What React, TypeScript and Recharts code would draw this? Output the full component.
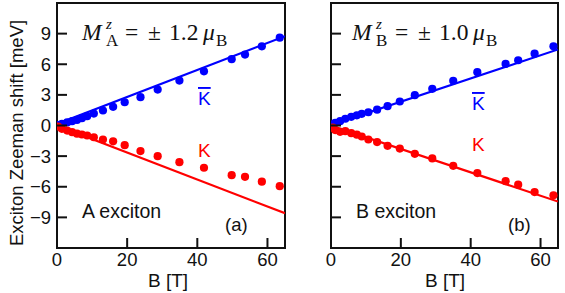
import React from 'react';
import { ComposedChart, Scatter, XAxis, YAxis, ReferenceArea } from 'recharts';

// ---------- data ----------
const fieldA = [0.3, 1.4, 2.9, 4.3, 5.7, 7.1, 8.6, 10.5, 13.1, 16.0, 19.3, 23.8, 28.7, 34.9, 41.9, 49.8, 53.6, 58.4, 63.5];
const kbarA = [0.05, 0.17, 0.3, 0.42, 0.55, 0.72, 0.91, 1.17, 1.47, 1.83, 2.28, 2.77, 3.52, 4.4, 5.31, 6.5, 6.95, 7.76, 8.6];
const kA = [-0.1, -0.33, -0.5, -0.65, -0.8, -0.88, -0.98, -1.15, -1.38, -1.55, -1.93, -2.51, -3.0, -3.59, -4.14, -4.87, -5.03, -5.5, -5.94];

const fieldB = [0.5, 1.2, 2.6, 4.1, 5.8, 7.4, 8.8, 10.7, 13.2, 16.2, 19.7, 24.0, 29.0, 35.0, 41.9, 50.0, 53.6, 58.3, 63.7];
const kbarB = [0.1, 0.26, 0.42, 0.66, 0.85, 1.0, 1.14, 1.3, 1.55, 1.89, 2.35, 2.97, 3.59, 4.38, 5.22, 6.03, 6.39, 7.04, 7.76];
const kB = [-0.2, -0.45, -0.62, -0.56, -0.75, -0.9, -1.08, -1.37, -1.62, -1.99, -2.26, -2.77, -3.23, -3.95, -4.66, -5.45, -5.8, -6.52, -6.84];

const fitField = [0, 65];
const fitKbarA = [0.15, 8.75];
const fitKA = [0, -8.6];
const fitKbarB = [0.05, 7.45];
const fitKB = [0, -7.45];

const xTicks = [0, 20, 40, 60];
const yTicks = [-9, -6, -3, 0, 3, 6, 9];
const xDomain = [0, 65];
const yDomain = [-12, 12];

const BLUE = '#0000ff';
const RED = '#ff0000';
const INK = '#111';
const SANS = '"Liberation Sans", Arial, Helvetica, sans-serif';
const SERIF = '"Liberation Serif", "Times New Roman", serif';

const zip = (xs: number[], ys: number[]) => xs.map((x, i) => ({ x, y: ys[i] }));
const fmt = (v: number) => (v < 0 ? '\u2212' + Math.abs(v) : String(v));

const TICK_LEN = 10;

const bottomTick = (p: any) => (
  <g>
    <line x1={p.x} y1={p.y} x2={p.x} y2={p.y - TICK_LEN} stroke={INK} strokeWidth={2} />
    <text x={p.x} y={p.y + 17.5} textAnchor="middle" fontFamily={SANS} fontSize={18.5} fill={INK}>
      {fmt(p.payload.value)}
    </text>
  </g>
);
const topTick = (p: any) => (
  <line x1={p.x} y1={p.y} x2={p.x} y2={p.y + TICK_LEN} stroke={INK} strokeWidth={2} />
);
const leftTickLabeled = (p: any) => (
  <g>
    <line x1={p.x} y1={p.y} x2={p.x + TICK_LEN} y2={p.y} stroke={INK} strokeWidth={2} />
    <text x={p.x - 6} y={p.y + 6.5} textAnchor="end" fontFamily={SANS} fontSize={18.5} fill={INK}>
      {fmt(p.payload.value)}
    </text>
  </g>
);
const leftTickPlain = (p: any) => (
  <line x1={p.x} y1={p.y} x2={p.x + TICK_LEN} y2={p.y} stroke={INK} strokeWidth={2} />
);
const rightTick = (p: any) => (
  <line x1={p.x} y1={p.y} x2={p.x - TICK_LEN} y2={p.y} stroke={INK} strokeWidth={2} />
);

const dot = (color: string) => (p: any) => <circle cx={p.cx} cy={p.cy} r={4.1} fill={color} />;
const noShape = () => <g />;

type PanelProps = {
  width: number;
  yAxisWidth: number;
  rightMargin: number;
  labeled: boolean;
  field: number[];
  kbar: number[];
  k: number[];
  fitKbar: number[];
  fitK: number[];
};

function Panel(props: PanelProps) {
  const { width, yAxisWidth, rightMargin, labeled, field, kbar, k, fitKbar, fitK } = props;
  return (
    <ComposedChart width={width} height={293} margin={{ top: 3, right: rightMargin, bottom: 0, left: 0 }}>
      <XAxis
        xAxisId="b"
        dataKey="x"
        type="number"
        domain={xDomain}
        ticks={xTicks}
        allowDataOverflow
        height={45}
        tickSize={0}
        tickMargin={0}
        axisLine={false}
        tickLine={false}
        tick={bottomTick}
        interval={0}
      />
      <XAxis
        xAxisId="t"
        orientation="top"
        dataKey="x"
        type="number"
        domain={xDomain}
        ticks={xTicks}
        allowDataOverflow
        height={0}
        tickSize={0}
        tickMargin={0}
        axisLine={false}
        tickLine={false}
        tick={topTick}
        interval={0}
      />
      <YAxis
        yAxisId="l"
        dataKey="y"
        type="number"
        domain={yDomain}
        ticks={yTicks}
        allowDataOverflow
        width={yAxisWidth}
        tickSize={0}
        tickMargin={0}
        axisLine={false}
        tickLine={false}
        tick={labeled ? leftTickLabeled : leftTickPlain}
        interval={0}
      />
      <YAxis
        yAxisId="r"
        orientation="right"
        dataKey="y"
        type="number"
        domain={yDomain}
        ticks={yTicks}
        allowDataOverflow
        width={0}
        tickSize={0}
        tickMargin={0}
        axisLine={false}
        tickLine={false}
        tick={rightTick}
        interval={0}
      />
      <ReferenceArea
        xAxisId="b"
        yAxisId="l"
        x1={xDomain[0]}
        x2={xDomain[1]}
        y1={yDomain[0]}
        y2={yDomain[1]}
        fill="none"
        fillOpacity={0}
        stroke={INK}
        strokeWidth={2}
      />
      <Scatter
        xAxisId="b"
        yAxisId="l"
        data={zip(fitField, fitKbar)}
        line={{ stroke: BLUE, strokeWidth: 2.2 }}
        lineType="joint"
        shape={noShape}
        isAnimationActive={false}
      />
      <Scatter
        xAxisId="b"
        yAxisId="l"
        data={zip(fitField, fitK)}
        line={{ stroke: RED, strokeWidth: 2.2 }}
        lineType="joint"
        shape={noShape}
        isAnimationActive={false}
      />
      <Scatter xAxisId="b" yAxisId="l" data={zip(field, kbar)} shape={dot(BLUE)} isAnimationActive={false} />
      <Scatter xAxisId="b" yAxisId="l" data={zip(field, k)} shape={dot(RED)} isAnimationActive={false} />
    </ComposedChart>
  );
}

function Title({ x, sub, value }: { x: number; sub: string; value: string }) {
  return (
    <text fontFamily={SERIF} fill={INK}>
      <tspan x={x} y={39.5} fontSize={23.5} fontStyle="italic">M</tspan>
      <tspan x={x + 24} y={28.5} fontSize={15} fontStyle="italic">z</tspan>
      <tspan x={x + 24} y={45.5} fontSize={17}>{sub}</tspan>
      <tspan x={x + 43} y={39.5} fontSize={23.5}>=</tspan>
      <tspan x={x + 66} y={39.5} fontSize={23.5}>±</tspan>
      <tspan x={x + 87} y={39.5} fontSize={23.5}>{value}</tspan>
      <tspan x={x + 121} y={39.5} fontSize={23.5} fontStyle="italic">μ</tspan>
      <tspan x={x + 134} y={45.5} fontSize={17}>B</tspan>
    </text>
  );
}

export default function App() {
  return (
    <div style={{ position: 'absolute', left: 0, top: 0, width: 565, height: 293, background: '#fff' }}>
      <div style={{ position: 'absolute', left: 0, top: 0 }}>
        <Panel width={290} yAxisWidth={57} rightMargin={5} labeled field={fieldA} kbar={kbarA} k={kA} fitKbar={fitKbarA} fitK={fitKA} />
      </div>
      <div style={{ position: 'absolute', left: 290, top: 0 }}>
        <Panel width={275} yAxisWidth={41} rightMargin={7} labeled={false} field={fieldB} kbar={kbarB} k={kB} fitKbar={fitKbarB} fitK={fitKB} />
      </div>
      <svg width={565} height={293} style={{ position: 'absolute', left: 0, top: 0, pointerEvents: 'none' }}>
        <text transform="translate(23,133) rotate(-90)" textAnchor="middle" fontFamily={SANS} fontSize={18.5} fill={INK}>
          Exciton Zeeman shift [meV]
        </text>
        <text x={168} y={287} textAnchor="middle" fontFamily={SANS} fontSize={19} fill={INK}>B [T]</text>
        <text x={445} y={287} textAnchor="middle" fontFamily={SANS} fontSize={19} fill={INK}>B [T]</text>

        <Title x={82} sub="A" value="1.2" />
        <Title x={352} sub="B" value="1.0" />

        <text x={198} y={105} fontFamily={SANS} fontSize={19} fill={BLUE} style={{ textDecoration: 'overline' }}>K</text>
        <text x={198} y={156.5} fontFamily={SANS} fontSize={19} fill={RED}>K</text>
        <text x={472} y={110} fontFamily={SANS} fontSize={19} fill={BLUE} style={{ textDecoration: 'overline' }}>K</text>
        <text x={472} y={150.5} fontFamily={SANS} fontSize={19} fill={RED}>K</text>

        <text x={82} y={218} fontFamily={SANS} fontSize={19.5} fill={INK}>A exciton</text>
        <text x={356} y={218} fontFamily={SANS} fontSize={19.5} fill={INK}>B exciton</text>
        <text x={225} y={230.5} fontFamily={SANS} fontSize={18.5} fill={INK}>(a)</text>
        <text x={508} y={230.5} fontFamily={SANS} fontSize={18.5} fill={INK}>(b)</text>
      </svg>
    </div>
  );
}
